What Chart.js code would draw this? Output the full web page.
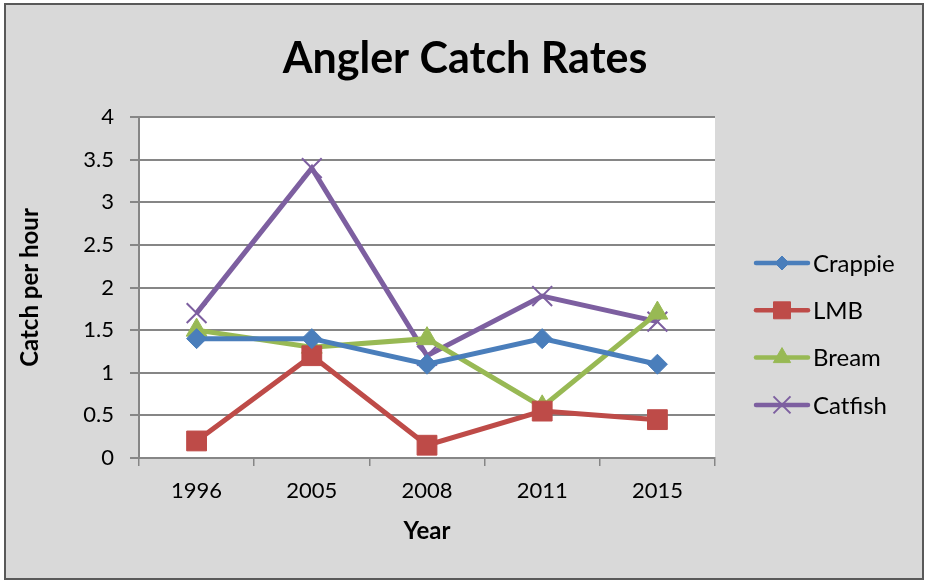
<!DOCTYPE html>
<html>
<head>
<meta charset="utf-8">
<script src="https://cdn.jsdelivr.net/npm/chart.js@4.4.1/dist/chart.umd.min.js"></script>
<style>
  html, body { margin: 0; padding: 0; background: #ffffff; }
  #wrap { width: 928px; height: 581px; }
</style>
</head>
<body>
<div id="wrap"><canvas id="c" width="928" height="581"></canvas></div>
<script>
const years = ['1996', '2005', '2008', '2011', '2015'];
const crappie = [1.4, 1.4, 1.1, 1.4, 1.1];
const lmb = [0.2, 1.2, 0.15, 0.55, 0.45];
const bream = [1.5, 1.3, 1.4, 0.6, 1.7];
const catfish = [1.7, 3.4, 1.2, 1.9, 1.6];
const seriesNames = ['Crappie', 'LMB', 'Bream', 'Catfish'];
const chartTitle = 'Angler Catch Rates';

const FONT = "Lato, 'Open Sans', sans-serif";
const colors = ['#4a7ebb', '#be4b48', '#98b954', '#7d5fa0'];

function ds(label, data, color, style, radius, borderW, legendR) {
  return {
    label, data,
    borderColor: color,
    backgroundColor: color,
    borderWidth: 5,
    pointStyle: style,
    pointRadius: radius,
    pointHoverRadius: radius,
    pointBackgroundColor: color,
    pointBorderColor: color,
    pointBorderWidth: borderW,
    legendRadius: legendR,
    tension: 0,
    clip: false
  };
}

const bgPlugin = {
  id: 'bg',
  beforeDraw(chart) {
    const ctx = chart.ctx;
    ctx.save();
    ctx.fillStyle = '#ffffff';
    ctx.fillRect(0, 0, chart.width, chart.height);
    ctx.fillStyle = '#d9d9d9';
    ctx.fillRect(5, 4, 918, 575);
    ctx.strokeStyle = '#595959';
    ctx.lineWidth = 2;
    ctx.strokeRect(5, 4, 918, 575);
    const a = chart.chartArea;
    ctx.fillStyle = '#ffffff';
    ctx.fillRect(a.left, a.top, a.right - a.left, a.bottom - a.top);
    ctx.fillStyle = '#000000';
    ctx.font = "bold 43px " + FONT;
    ctx.textAlign = 'center';
    ctx.textBaseline = 'alphabetic';
    ctx.fillText(chartTitle, 465, 73);
    ctx.restore();
  }
};

const legendPlugin = {
  id: 'customLegend',
  afterDraw(chart) {
    const ctx = chart.ctx;
    ctx.save();
    chart.data.datasets.forEach((d, i) => {
      const y = 263 + i * 47.3;
      ctx.strokeStyle = d.borderColor;
      ctx.lineWidth = 4.5;
      ctx.lineCap = 'round';
      ctx.beginPath();
      ctx.moveTo(756, y);
      ctx.lineTo(808, y);
      ctx.stroke();
      ctx.fillStyle = d.borderColor;
      ctx.strokeStyle = d.borderColor;
      ctx.lineWidth = d.pointBorderWidth;
      ctx.lineCap = 'butt';
      Chart.helpers.drawPoint(ctx, {
        pointStyle: d.pointStyle,
        radius: d.legendRadius,
        rotation: 0,
        borderWidth: d.pointBorderWidth
      }, 782, y);
      ctx.fillStyle = '#000000';
      ctx.font = "24px " + FONT;
      ctx.textAlign = 'left';
      ctx.textBaseline = 'middle';
      ctx.fillText(d.label, 813, y + 1);
    });
    ctx.restore();
  }
};

new Chart(document.getElementById('c'), {
  type: 'line',
  data: {
    labels: years,
    datasets: [
      ds(seriesNames[0], crappie, colors[0], 'rectRot', 10, 1, 7),
      ds(seriesNames[1], lmb, colors[1], 'rect', 14, 1, 12),
      ds(seriesNames[2], bream, colors[2], 'triangle', 12, 1, 10),
      ds(seriesNames[3], catfish, colors[3], 'crossRot', 14, 2, 12)
    ]
  },
  options: {
    responsive: false,
    animation: false,
    devicePixelRatio: 1,
    layout: { padding: { left: 10, right: 213, top: 117, bottom: 10 } },
    plugins: {
      legend: { display: false },
      tooltip: { enabled: false },
      title: { display: false }
    },
    scales: {
      x: {
        offset: true,
        grid: {
          offset: true,
          drawOnChartArea: false,
          drawTicks: true,
          tickLength: 8,
          color: '#868686',
          lineWidth: 1.5
        },
        border: { display: true, color: '#868686', width: 2 },
        ticks: {
          color: '#000000',
          font: { family: FONT, size: 22 },
          padding: 12,
          maxRotation: 0
        },
        title: {
          display: true,
          text: 'Year',
          color: '#000000',
          font: { family: FONT, size: 24, weight: 'bold', lineHeight: 1.2 },
          padding: { top: 0, bottom: 25.6 }
        },
        afterFit(scale) { scale.height = 113; }
      },
      y: {
        min: 0,
        max: 4,
        ticks: {
          stepSize: 0.5,
          color: '#000000',
          font: { family: FONT, size: 22 },
          padding: 16,
          callback: (v) => String(v)
        },
        grid: {
          color: '#868686',
          lineWidth: 2,
          tickLength: 9,
          drawTicks: true
        },
        border: { display: true, color: '#868686', width: 2 },
        title: {
          display: true,
          text: 'Catch per hour',
          color: '#000000',
          font: { family: FONT, size: 24, weight: 'bold', lineHeight: 1.2 },
          padding: { top: 5.6, bottom: 0 }
        },
        afterFit(scale) { scale.width = 129; }
      }
    }
  },
  plugins: [bgPlugin, legendPlugin]
});
</script>
</body>
</html>
